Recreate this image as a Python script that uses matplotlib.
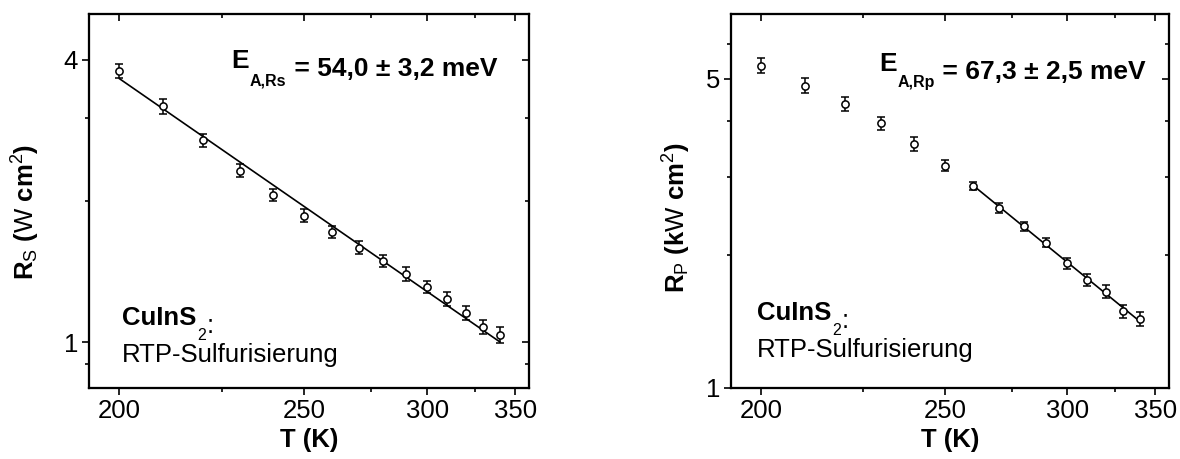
import numpy as np
import matplotlib
matplotlib.use("Agg")
import matplotlib.pyplot as plt
from matplotlib.ticker import FixedLocator, NullFormatter

plt.rcParams['font.family'] = ['Liberation Sans', 'DejaVu Sans']
plt.rcParams['mathtext.fontset'] = 'custom'
plt.rcParams['mathtext.rm'] = 'Liberation Sans'
plt.rcParams['mathtext.bf'] = 'Liberation Sans:bold'
plt.rcParams['mathtext.it'] = 'Liberation Sans:italic'

# ---------------- data ----------------
T = [200, 210, 220, 230, 240, 250, 260, 270, 280, 290, 300, 310, 320, 330, 340]
Rs = [3.79, 3.18, 2.69, 2.32, 2.06, 1.86, 1.72, 1.59, 1.49, 1.395, 1.31, 1.235, 1.154, 1.08, 1.036]
Rs_err = [0.13, 0.113, 0.080, 0.077, 0.060, 0.058, 0.051, 0.050, 0.045, 0.048, 0.039, 0.043, 0.040, 0.037, 0.041]
Rp = [5.35, 4.82, 4.38, 3.96, 3.56, 3.18, 2.86, 2.55, 2.32, 2.13, 1.91, 1.75, 1.65, 1.49, 1.43]
Rp_err = [0.21, 0.19, 0.165, 0.13, 0.125, 0.09, 0.057, 0.062, 0.056, 0.051, 0.055, 0.054, 0.058, 0.052, 0.05]

EA_Rs = 54.0   # meV
EA_Rp = 67.3   # meV
fit_Tmin_Rs = 200
fit_Tmin_Rp = 260

x_major = [200, 250, 300, 350]
x_minor = [225, 275, 325]
kB = 8.617e-5  # eV/K


def fwd(t):
    return -1.0 / np.asarray(t, dtype=float)


def inv(u):
    return -1.0 / np.asarray(u, dtype=float)


def arrhenius_line(Tv, Rv, EA, Tmin):
    Tv = np.asarray(Tv, float)
    Rv = np.asarray(Rv, float)
    m = Tv >= Tmin
    s = EA * 1e-3 / kB
    c = np.mean(np.log(Rv[m]) - s / Tv[m])
    Tf = np.linspace(Tv[m].min(), Tv[m].max(), 200)
    return Tf, np.exp(c + s / Tf)


fig = plt.figure(figsize=(11.8, 4.59), dpi=100)

panels = [
    dict(rect=[0.0757, 0.1553, 0.3729, 0.8142], R=Rs, err=Rs_err, EA=EA_Rs, Tmin=fit_Tmin_Rs,
         ylim=(0.8, 5.0), ymaj=[1, 4], ymin=[0.9, 2, 3],
         ylabel=r'R$_\mathrm{S}$ ($\mathrm{W}$ cm$^\mathrm{2}$)', sub='A,Rs',
         rest=' = 54,0 ± 3,2 meV', epos=(0.3236, 0.8547), cpos=(0.075, 0.1678), rpos=(0.075, 0.0696),
         lcoords=(-0.1075, 0.47)),
    dict(rect=[0.6195, 0.1553, 0.3714, 0.8142], R=Rp, err=Rp_err, EA=EA_Rp, Tmin=fit_Tmin_Rp,
         ylim=(1.0, 7.0), ymaj=[1, 5], ymin=[2, 3, 4, 6],
         ylabel=r'R$_\mathrm{P}$ (k$\mathrm{W}$ cm$^\mathrm{2}$)', sub='A,Rp',
         rest=' = 67,3 ± 2,5 meV', epos=(0.3383, 0.8483), cpos=(0.06, 0.1812), rpos=(0.06, 0.083),
         lcoords=(-0.0867, 0.454)),
]

xlim = (193.7, 359.7)

for p in panels:
    ax = fig.add_axes(p['rect'])
    ax.set_xscale('function', functions=(fwd, inv))
    ax.set_yscale('log')
    ax.set_xlim(*xlim)
    ax.set_ylim(*p['ylim'])

    ax.errorbar(T, p['R'], yerr=p['err'], fmt='o', ms=5.2, mfc='white', mec='black', mew=1.1,
                ecolor='black', elinewidth=1.1, capsize=3.0, capthick=1.5, zorder=3)
    Tf, Rf = arrhenius_line(T, p['R'], p['EA'], p['Tmin'])
    ax.plot(Tf, Rf, color='black', lw=1.2, zorder=2)

    ax.xaxis.set_major_locator(FixedLocator(x_major))
    ax.xaxis.set_minor_locator(FixedLocator(x_minor))
    ax.set_xticklabels([str(v) for v in x_major])
    ax.xaxis.set_minor_formatter(NullFormatter())
    ax.yaxis.set_major_locator(FixedLocator(p['ymaj']))
    ax.yaxis.set_minor_locator(FixedLocator(p['ymin']))
    ax.set_yticklabels([str(v) for v in p['ymaj']])
    ax.yaxis.set_minor_formatter(NullFormatter())
    ax.tick_params(which='major', direction='out', length=5, width=1.2, labelsize=18.5, pad=3)
    ax.tick_params(which='minor', direction='out', length=3, width=1.2)
    ax.tick_params(top=False, right=False, which='both')
    for s in ax.spines.values():
        s.set_linewidth(1.5)

    # mirrored inward ticks on top and right
    axt = ax.twiny()
    axt.set_xscale('function', functions=(fwd, inv))
    axt.set_xlim(*xlim)
    axt.xaxis.set_major_locator(FixedLocator(x_major))
    axt.xaxis.set_minor_locator(FixedLocator(x_minor))
    axt.xaxis.set_major_formatter(NullFormatter())
    axt.xaxis.set_minor_formatter(NullFormatter())
    axt.tick_params(which='major', direction='in', length=5, width=1.2)
    axt.tick_params(which='minor', direction='in', length=3, width=1.2)
    axr = ax.twinx()
    axr.set_yscale('log')
    axr.set_ylim(*p['ylim'])
    axr.yaxis.set_major_locator(FixedLocator(p['ymaj']))
    axr.yaxis.set_minor_locator(FixedLocator(p['ymin']))
    axr.yaxis.set_major_formatter(NullFormatter())
    axr.yaxis.set_minor_formatter(NullFormatter())
    axr.tick_params(which='major', direction='in', length=5, width=1.2)
    axr.tick_params(which='minor', direction='in', length=3, width=1.2)
    for a in (axt, axr):
        for s in a.spines.values():
            s.set_linewidth(1.5)

    ax.set_xlabel('T (K)', fontsize=18.5, fontweight='bold', labelpad=4)
    ax.set_ylabel(p['ylabel'], fontsize=18.5, fontweight='bold')
    ax.yaxis.set_label_coords(*p['lcoords'])

    # activation-energy annotation
    t1 = ax.text(p['epos'][0], p['epos'][1], 'E', transform=ax.transAxes, fontsize=19,
                 fontweight='bold', va='baseline', ha='left')
    t2 = ax.annotate(p['sub'], xy=(1, 0), xycoords=t1, xytext=(0.5, -8.5), textcoords='offset points',
                     fontsize=11.5, fontweight='bold', va='baseline', ha='left')
    ax.annotate(p['rest'], xy=(1, 0), xycoords=t2, xytext=(0, 8.5), textcoords='offset points',
                fontsize=19, fontweight='bold', va='baseline', ha='left')

    c1 = ax.text(p['cpos'][0], p['cpos'][1], 'CuInS', transform=ax.transAxes, fontsize=18.5,
                 fontweight='bold', va='baseline', ha='left')
    c2 = ax.annotate('2', xy=(1, 0), xycoords=c1, xytext=(0.5, -7), textcoords='offset points',
                     fontsize=11.5, va='baseline', ha='left')
    ax.annotate(':', xy=(1, 0), xycoords=c2, xytext=(0.5, 7), textcoords='offset points',
                fontsize=18.5, va='baseline', ha='left')
    ax.text(p['rpos'][0], p['rpos'][1], 'RTP-Sulfurisierung', transform=ax.transAxes, fontsize=18.5,
            va='baseline', ha='left')

fig.savefig('out.png', dpi=100)
